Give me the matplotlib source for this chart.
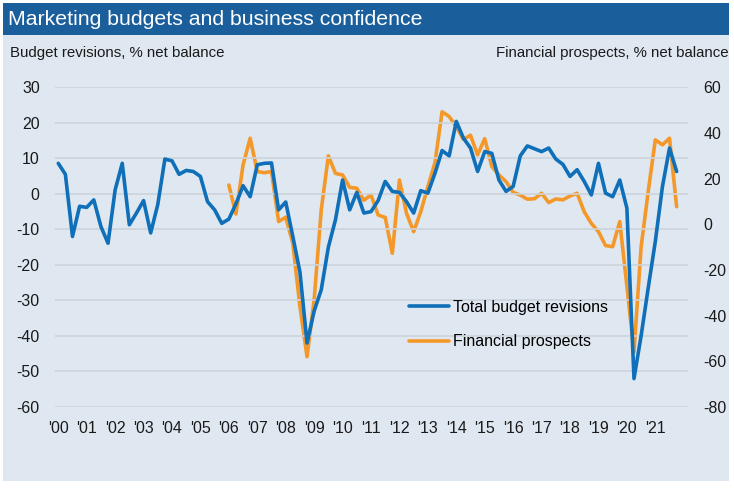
import numpy as np
import matplotlib
matplotlib.use("Agg")
import matplotlib.pyplot as plt
from matplotlib.patches import Rectangle

plt.rcParams['axes.unicode_minus'] = False

# quarterly data, 2000 Q1 .. 2021 Q4
budget_revisions = [
    8.6, 5.5, -12.0, -3.5, -3.8, -1.7, -9.2, -13.9,          # 2000-01
    1.1, 8.6, -8.7, -5.4, -1.9, -11.0, -3.0, 9.8,            # 2002-03
    9.3, 5.5, 6.6, 6.3, 4.9, -2.2, -4.5, -8.3,               # 2004-05
    -7.1, -2.8, 2.3, -0.8, 8.2, 8.6, 8.7, -4.5,              # 2006-07
    -2.3, -12.0, -22.0, -42.0, -33.0, -27.0, -15.0, -7.3,    # 2008-09
    3.9, -4.5, 0.4, -5.4, -5.0, -1.9, 3.5, 0.7,              # 2010-11
    0.4, -2.2, -5.4, 0.9, 0.2, 5.8, 12.2, 10.7,              # 2012-13
    20.4, 15.7, 12.9, 6.3, 11.9, 11.4, 3.9, 0.7,             # 2014-15
    2.1, 10.7, 13.5, 12.7, 11.9, 12.9, 9.8, 8.3,             # 2016-17
    4.9, 6.8, 3.5, -0.3, 8.6, 0.2, -0.8, 3.9,                # 2018-19
    -4.0, -52.0, -40.0, -26.5, -13.4, 2.0, 12.9, 6.3,        # 2020-21
]

# financial prospects start in 2006 Q1
fin_start = 24
financial_prospects = [
    17.2, 4.5, 26.0, 37.7, 23.1, 22.6, 23.1, 1.2,            # 2006-07
    3.1, -8.3, -36.0, -58.0, -33.0, 6.3, 30.0, 22.3,         # 2008-09
    21.6, 16.2, 15.8, 10.5, 12.9, 4.1, 3.0, -12.7,           # 2010-11
    19.4, 4.8, -3.2, 5.5, 16.5, 27.0, 49.3, 47.2,            # 2012-13
    42.8, 37.2, 39.0, 30.4, 37.5, 25.3, 21.6, 18.7,          # 2014-15
    14.0, 12.8, 11.0, 11.2, 13.6, 9.5, 11.1, 10.7,           # 2016-17
    12.4, 13.6, 5.5, 0.4, -3.2, -9.3, -9.8, 1.2,             # 2018-19
    -27.0, -56.0, -10.0, 14.3, 37.0, 34.8, 37.7, 7.7,        # 2020-21
]

year_labels = ["'%02d" % y for y in range(0, 22)]
left_ticks = [30, 20, 10, 0, -10, -20, -30, -40, -50, -60]
right_ticks = [60, 40, 20, 0, -20, -40, -60, -80]

BLUE = '#0f6fb8'
ORANGE = '#f5982a'
PANEL = '#dfe8f1'
BAR = '#1a5e9b'
W, H = 734, 491

fig = plt.figure(figsize=(W / 100, H / 100), dpi=100)
fig.patch.set_facecolor('white')


def px_rect(x0, y0, x1, y1, color):
    # rectangle given in image pixel coords (origin top-left)
    fig.patches.append(Rectangle((x0 / W, 1 - y1 / H), (x1 - x0) / W, (y1 - y0) / H,
                                 transform=fig.transFigure, facecolor=color,
                                 edgecolor='none', zorder=-10))


px_rect(3, 3, 729, 481, PANEL)
px_rect(3, 3, 729, 35, BAR)

regular = ['Liberation Sans', 'DejaVu Sans']

fig.text(8 / W, 1 - 19.5 / H, 'Marketing budgets and business confidence', color='white',
         fontsize=15.3, family=regular, va='center', ha='left')
fig.text(10 / W, 1 - 53 / H, 'Budget revisions, % net balance', color='#1a1a1a',
         fontsize=10.8, family=regular, va='center', ha='left')
fig.text(729 / W, 1 - 53 / H, 'Financial prospects, % net balance', color='#1a1a1a',
         fontsize=10.8, family=regular, va='center', ha='right')

ax = fig.add_axes([55 / W, 1 - 407 / H, (688 - 55) / W, (407 - 87.3) / H])
ax.set_facecolor('none')
ax2 = ax.twinx()

x_all = np.arange(len(budget_revisions))
x_fin = np.arange(fin_start, fin_start + len(financial_prospects))

l1, = ax.plot(x_all, budget_revisions, color=BLUE, lw=2.6, solid_joinstyle='round',
              solid_capstyle='round', zorder=3, label='Total budget revisions')
l2, = ax2.plot(x_fin, financial_prospects, color=ORANGE, lw=2.6, solid_joinstyle='round',
               solid_capstyle='round', zorder=2, label='Financial prospects')

ax.set_ylim(-60, 30)
ax2.set_ylim(-80, 60)
ax.set_xlim(-0.46, 88.6)
ax.set_yticks(left_ticks)
ax2.set_yticks(right_ticks)
ax.set_xticks(np.arange(0, 88, 4))
ax.set_xticklabels(year_labels)

ax.grid(axis='y', color='#cdd3d9', lw=1.2)
ax.set_axisbelow(True)
for a in (ax, ax2):
    for s in a.spines.values():
        s.set_visible(False)
    a.tick_params(length=0, labelsize=11.5, labelcolor='#1a1a1a')
    for t in a.get_xticklabels() + a.get_yticklabels():
        t.set_family(regular)
ax.tick_params(axis='y', pad=11)
ax.tick_params(axis='x', pad=10)
ax2.tick_params(axis='y', pad=11)

# put blue line above orange
ax.set_zorder(ax2.get_zorder() + 1)

leg = ax.legend([l1, l2], ['Total budget revisions', 'Financial prospects'],
                loc='center left', bbox_to_anchor=(0.547, 0.258), frameon=False,
                borderpad=0, handlelength=2.5, handletextpad=0.22, labelspacing=1.2,
                prop={'family': regular, 'size': 11.5})

fig.savefig('out.png', dpi=100, facecolor='white')
